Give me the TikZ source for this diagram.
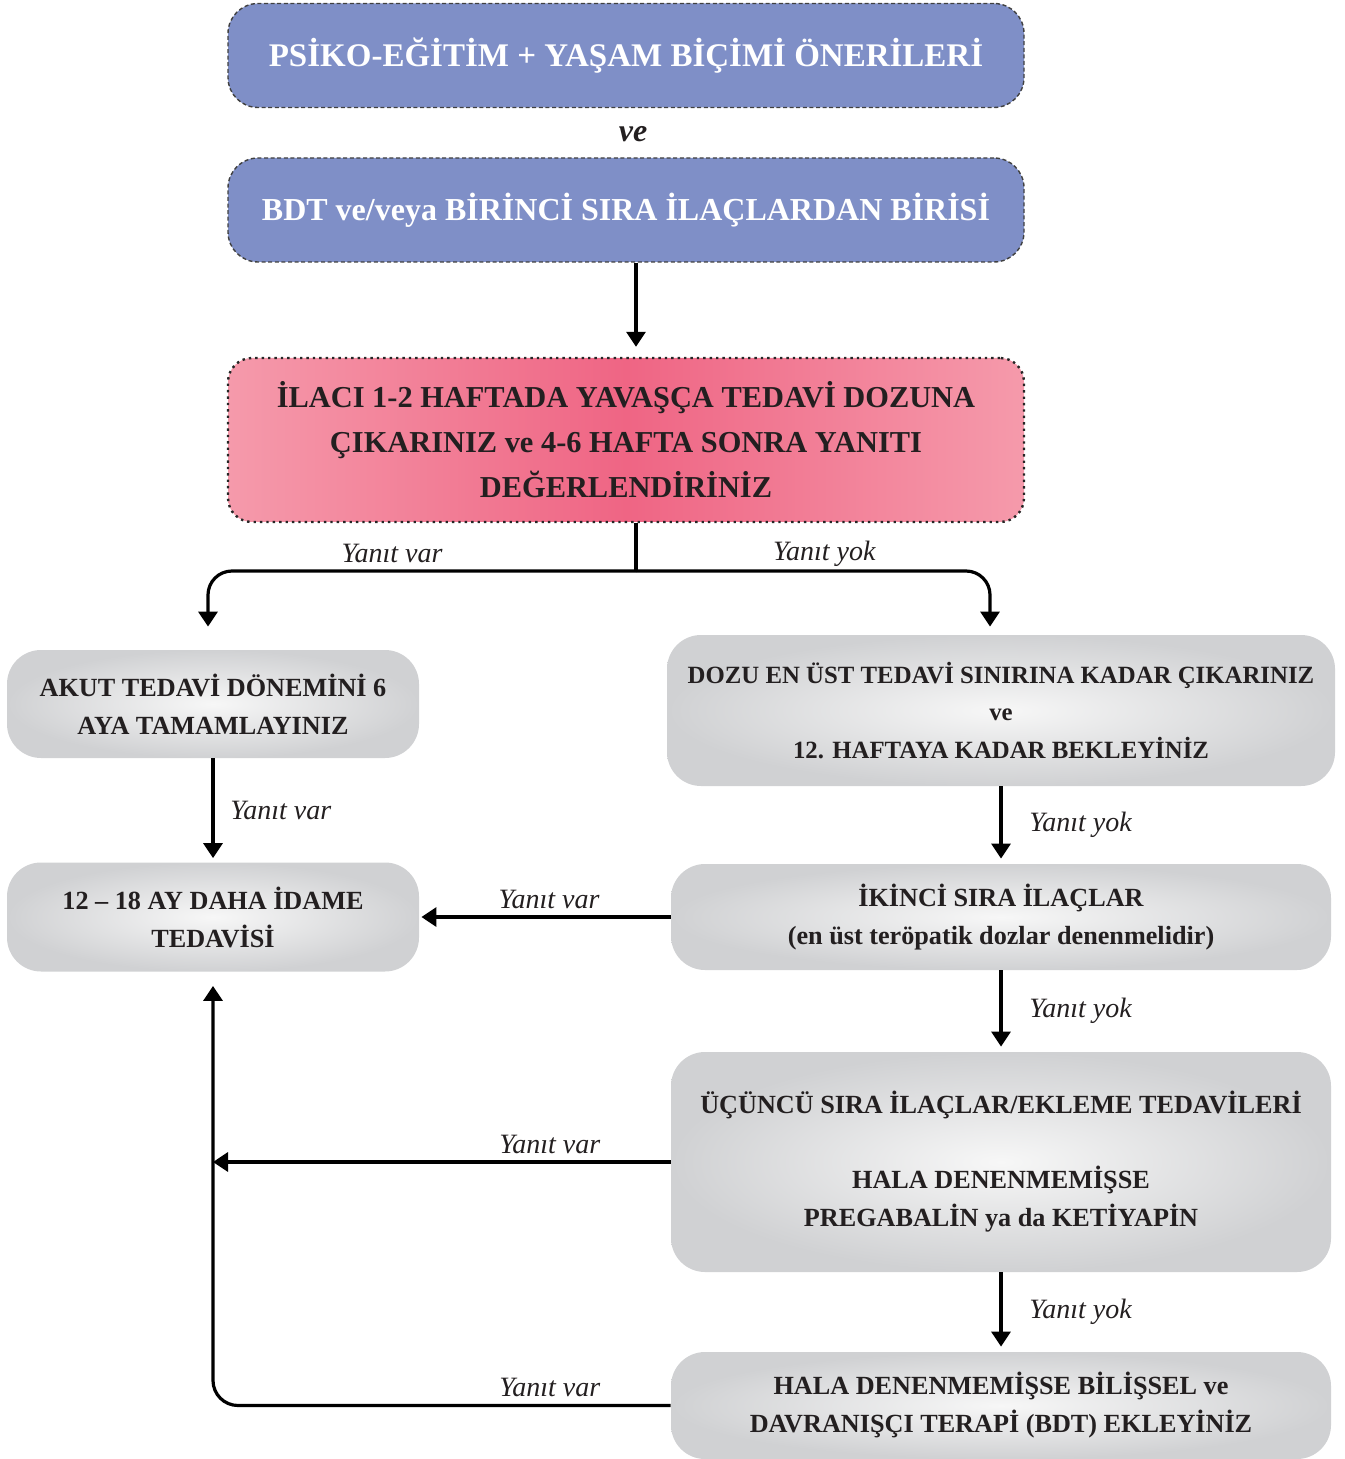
\documentclass[tikz,border=0pt]{standalone}
\usepackage{fontspec}
\setmainfont{Liberation Serif}
\usetikzlibrary{arrows.meta,positioning,calc}
\definecolor{boxblue}{HTML}{7F8FC7}
\definecolor{pinkedge}{HTML}{F59AAB}
\definecolor{pinkmid}{HTML}{EF6584}
\definecolor{grayedge}{HTML}{D0D1D3}
\definecolor{graymid}{HTML}{F7F7F7}
\definecolor{textdark}{HTML}{231F20}
\tikzset{
  bluebox/.style={draw=black!75,dash pattern=on 2pt off 1.3pt,line width=0.7pt,
    fill=boxblue,rounded corners=15pt,text=white,
    font=\fontsize{16.5}{20}\selectfont\bfseries,
    minimum width=398pt,minimum height=52pt},
  pinkbox/.style={draw=black!85,dotted,line width=1.2pt,
    left color=pinkedge,right color=pinkedge,middle color=pinkmid,
    rounded corners=12pt,text=textdark,align=center,
    font=\fontsize{15.2}{22.5}\selectfont\bfseries,
    minimum width=398pt,minimum height=82pt},
  graybox/.style={inner color=graymid,outer color=grayedge,
    rounded corners=17pt,text=textdark,align=center,
    font=\fontsize{13.1}{19}\selectfont\bfseries},
  arrow/.style={line width=1.6pt,-{Triangle[width=9.5pt,length=7.5pt]}},
  lbl/.style={font=\fontsize{14}{16}\selectfont\itshape,text=textdark}
}
\begin{document}
\begin{tikzpicture}[x=0.5pt,y=-0.5pt]
  \useasboundingbox (0,0) rectangle (1344,1459);
  % first steps
  \node[bluebox] (psiko) at (626,55.5) {PSİKO-EĞİTİM + YAŞAM BİÇİMİ ÖNERİLERİ};
  \node[font=\fontsize{16}{18}\selectfont\bfseries\itshape,text=textdark] (ve) at (633,134) {ve};
  \node[bluebox,font=\fontsize{16}{20}\selectfont\bfseries] (bdt) at (626,210)
    {BDT ve/veya BİRİNCİ SIRA İLAÇLARDAN BİRİSİ};
  % titration
  \node[pinkbox] (ilac) at (626,440)
    {İLACI 1-2 HAFTADA YAVAŞÇA TEDAVİ DOZUNA\\ÇIKARINIZ ve 4-6 HAFTA SONRA YANITI\\DEĞERLENDİRİNİZ};
  % left column
  \node[graybox,minimum width=206pt,minimum height=54pt] (akut) at (213,704)
    {AKUT TEDAVİ DÖNEMİNİ 6\\AYA TAMAMLAYINIZ};
  \node[graybox,minimum width=206pt,minimum height=54.5pt] (idame) at (213,917)
    {12 – 18 AY DAHA İDAME\\TEDAVİSİ};
  % right column
  \node[graybox,font=\fontsize{12.4}{18.8}\selectfont\bfseries,
    minimum width=334pt,minimum height=75.5pt] (dozu) at (1001,710.5)
    {DOZU EN ÜST TEDAVİ SINIRINA KADAR ÇIKARINIZ\\ve\\12. HAFTAYA KADAR BEKLEYİNİZ};
  \node[graybox,minimum width=330pt,minimum height=53pt] (ikinci) at (1001,917)
    {İKİNCİ SIRA İLAÇLAR\\(en üst teröpatik dozlar denenmelidir)};
  \node[graybox,minimum width=330pt,minimum height=110pt] (ucuncu) at (1001,1162)
    {ÜÇÜNCÜ SIRA İLAÇLAR/EKLEME TEDAVİLERİ\\[18.5pt]HALA DENENMEMİŞSE\\PREGABALİN ya da KETİYAPİN};
  \node[graybox,minimum width=330pt,minimum height=53.5pt] (hala) at (1001,1405.5)
    {HALA DENENMEMİŞSE BİLİŞSEL ve\\DAVRANIŞÇI TERAPİ (BDT) EKLEYİNİZ};
  % connectors
  \draw[arrow,shorten >=5pt] ([xshift=5pt]bdt.south) -- ([xshift=5pt]ilac.north);
  \coordinate (split) at (636,571);
  \draw[line width=1.6pt] ([xshift=5pt]ilac.south) -- (split);
  \draw[arrow,rounded corners=12pt,shorten >=11.5pt] (split)
    -| node[lbl,above,pos=0.285] {Yanıt var} ([xshift=-2.5pt]akut.north);
  \draw[arrow,rounded corners=12pt,shorten >=4pt] (split)
    -| node[lbl,above,pos=0.266,yshift=-2pt] {Yanıt yok} ([xshift=-5.5pt]dozu.north);
  \draw[arrow,shorten >=2pt] (akut) -- node[lbl,right,xshift=4.5pt] {Yanıt var} (idame);
  \draw[arrow,shorten >=2.5pt] (dozu) -- node[lbl,right,xshift=10pt] {Yanıt yok} (ikinci);
  \draw[arrow,shorten >=1pt] (ikinci) -- node[lbl,above,xshift=2pt] {Yanıt var} (idame);
  \draw[arrow,shorten >=2.5pt] (ikinci) -- node[lbl,right,xshift=10pt] {Yanıt yok} (ucuncu);
  \coordinate (join) at (213,1162);
  \draw[arrow] (ucuncu) -- node[lbl,above,pos=0.264] {Yanıt var} (join);
  \draw[arrow,shorten >=2.5pt] (ucuncu) -- node[lbl,right,xshift=10pt] {Yanıt yok} (hala);
  \draw[arrow,rounded corners=12.5pt,shorten >=7pt] (hala.west)
    -| node[lbl,above,pos=0.132] {Yanıt var} (idame.south);
\end{tikzpicture}
\end{document}
